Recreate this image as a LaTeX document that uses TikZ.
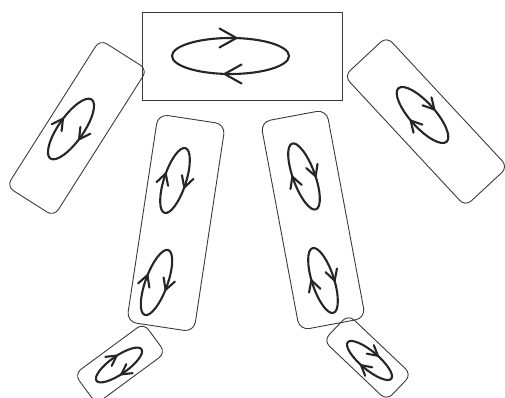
\documentclass[tikz,border=0pt]{standalone}
\usetikzlibrary{calc}
\definecolor{boxcol}{HTML}{3A3A3A}
\definecolor{spincol}{HTML}{262626}
\tikzset{
  boxst/.style={draw=boxcol, line width=0.9pt, rounded corners=8pt, inner sep=0pt, outer sep=0pt},
  spinst/.style={draw=spincol, line width=2.1pt, line join=round, line cap=round}
}
\newcommand{\spinell}[7]{%
  \begin{scope}[shift={(#1,#2)},rotate=#3]
    \draw[spinst] (0,0) ellipse [x radius=#4, y radius=#5];
    \draw[spinst] ({-#6*0.65},{#5+#7}) -- ({#6*0.35},{#5}) -- ({-#6*0.65},{#5-#7});
    \draw[spinst] ({#6*0.65},{-#5+#7}) -- ({-#6*0.35},{-#5}) -- ({#6*0.65},{-#5-#7});
  \end{scope}}
\begin{document}
\begin{tikzpicture}[x=1pt,y=1pt]
\useasboundingbox (0,0) rectangle (505,398);
\clip (0,0) rectangle (505,398);
% boxes
\node[boxst, rounded corners=0pt, minimum width=200, minimum height=88] (top) at (242,342) {};
\node[boxst, minimum width=56, minimum height=174, rotate=-32.4] (lbox) at (77,270) {};
\node[boxst, minimum width=58, minimum height=178, rotate=42.9] (rbox) at (426,276.5) {};
\node[boxst, rounded corners=10pt, minimum width=68, minimum height=210, rotate=-8.6] (mlbox) at (176,175) {};
\node[boxst, rounded corners=10pt, minimum width=67, minimum height=212, rotate=10.6] (mrbox) at (313,178) {};
\node[boxst, minimum width=86, minimum height=37, rotate=36.4] (blbox) at (120,34.5) {};
\node[boxst, minimum width=87, minimum height=36, rotate=-43.5] (brbox) at (367.5,40.5) {};
% spins
\spinell{230.5}{342}{0}{58.5}{18}{17}{9.5}
\spinell{71}{269}{55}{36}{12.5}{11}{6}
\spinell{422.5}{283}{-48}{36}{12.5}{11}{6}
\spinell{175}{217.5}{72}{34}{11}{11}{6}
\spinell{156.5}{115.5}{70}{34.5}{11}{11}{6}
\spinell{304}{221.5}{110}{35}{11}{11}{6}
\spinell{323}{117.5}{108}{34}{11}{11}{6}
\spinell{119}{33}{35}{27.5}{9}{10}{5.5}
\spinell{369.5}{37.5}{-40}{28.4}{9}{10}{5.5}
\end{tikzpicture}
\end{document}
